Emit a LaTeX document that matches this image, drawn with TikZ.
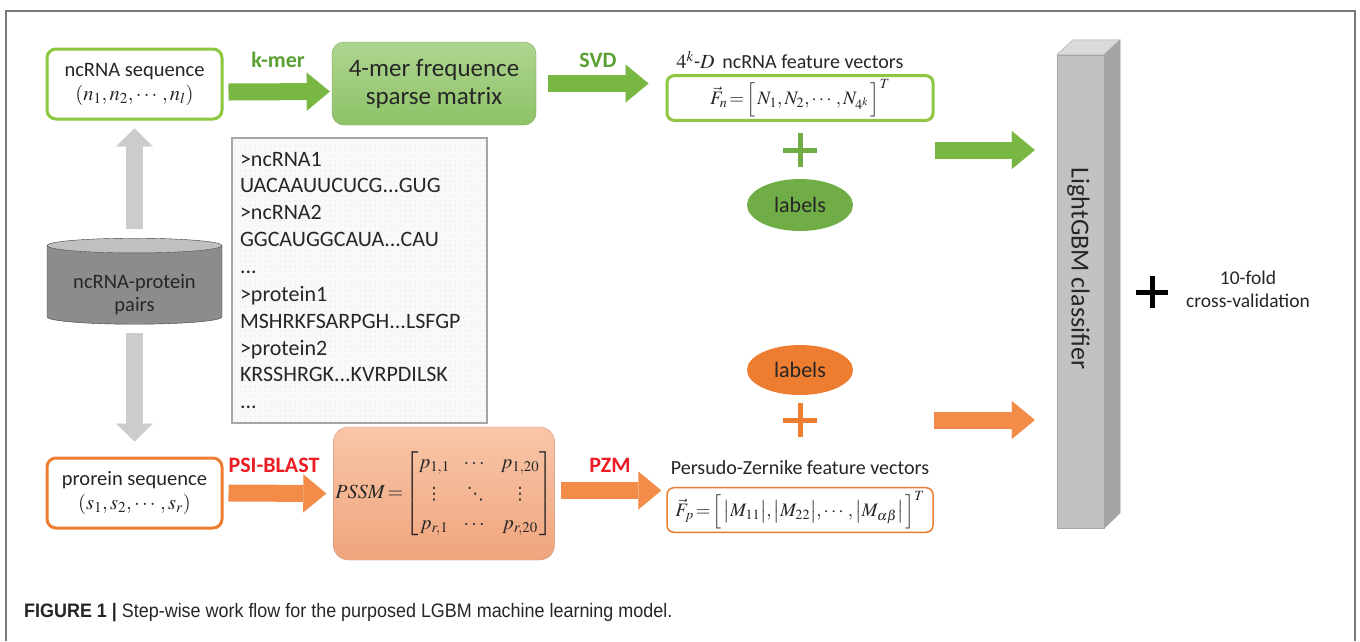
\documentclass[tikz,border=0pt]{standalone}
\usepackage{amsmath}
\usepackage{mathptmx}
\usepackage[no-math]{fontspec}
\setmainfont{Carlito}
\newfontfamily\capfont[FakeStretch=0.92]{Liberation Sans}
\newfontfamily\dotsfont{DejaVu Sans}
\usetikzlibrary{positioning,calc,arrows.meta,shapes.geometric,patterns.meta}

\definecolor{seqgreen}{RGB}{141,198,63}
\definecolor{arrgreen}{RGB}{120,184,66}
\definecolor{lblgreen}{RGB}{112,173,71}
\definecolor{txtgreen}{RGB}{88,160,50}
\definecolor{seqorange}{RGB}{237,125,49}
\definecolor{arrorange}{RGB}{242,140,72}
\definecolor{pssmtop}{RGB}{248,198,168}
\definecolor{pssmbot}{RGB}{240,165,125}
\definecolor{mertop}{RGB}{174,213,144}
\definecolor{merbot}{RGB}{142,194,104}
\definecolor{txtred}{RGB}{235,28,36}
\definecolor{framegray}{RGB}{120,120,120}
\definecolor{dbbody}{RGB}{140,140,140}
\definecolor{dbtop}{RGB}{192,192,192}
\definecolor{barfront}{RGB}{194,194,194}
\definecolor{barside}{RGB}{165,165,165}
\definecolor{bartop}{RGB}{218,218,218}
\definecolor{ink}{RGB}{38,38,38}

\tikzset{
  every node/.style={text=ink},
  seqbox/.style={draw=#1, line width=3pt, rounded corners=9pt, fill=white,
    minimum width=175pt, minimum height=70pt, align=center,
    font=\fontsize{20.5}{24}\selectfont},
  fatarrow/.style={draw=#1, line width=17pt,
    -{Triangle[length=23pt,width=38pt,line width=0.1pt]}},
  grayarrow/.style={draw=gray!40, line width=17pt,
    -{Triangle[length=18pt,width=37pt,line width=0.1pt]}},
  steplbl/.style={font=\fontsize{22}{26}\selectfont\bfseries, text=#1},
  featlbl/.style={font=\fontsize{20}{24}\selectfont},
  featbox/.style={draw=#1, rounded corners=7pt, minimum width=266pt, fill=white,
    font=\fontsize{19}{22}\selectfont},
  lblell/.style={ellipse, fill=#1, minimum width=106pt, minimum height=52pt,
    font=\fontsize{22}{26}\selectfont},
  plusarm/.style={draw=#1, line width=5pt},
}

\begin{document}
\begin{tikzpicture}[x=1pt,y=-1pt]
\useasboundingbox (0,0) rectangle (1360,641);
\fill[white] (0,0) rectangle (1360,641);
\draw[framegray, line width=1.5pt] (6,641) -- (6,11) -- (1355,11) -- (1355,641);

% ncRNA branch
\node[seqbox=seqgreen] (ncrna) at (134.5,84) {ncRNA sequence\\$\left(n_1,n_2,\cdots,n_l\right)$};
\node[rounded corners=12pt, draw=merbot!85!black, top color=mertop, bottom color=merbot,
  minimum width=204pt, minimum height=83pt, align=center,
  font=\fontsize{25}{28}\selectfont] (fourmer) at (434,83.5) {4-mer frequence\\sparse matrix};
\node[featlbl] (fnlbl) at (790,60) {$4^k$-$D$\, ncRNA feature vectors};
\node[featbox=seqgreen, line width=3pt, minimum height=42pt] (featn) at (800,98)
  {$\vec{F}_n\!=\!\Bigl[\,N_1,N_2,\cdots,N_{4^k}\,\Bigr]^T$};
\coordinate (gplus) at (800,150);
\draw[plusarm=lblgreen] ($(gplus)+(-17,0)$) -- ($(gplus)+(17,0)$) ($(gplus)+(0,-17)$) -- ($(gplus)+(0,17)$);
\node[lblell=lblgreen] (glabels) at (800,205) {labels};

\draw[fatarrow=arrgreen] ($(ncrna.east)+(5,8)$) -- ($(fourmer.west)+(-2,8)$);
\node[steplbl=txtgreen] (kmer) at (278,60) {k-mer};
\draw[fatarrow=arrgreen] ($(fourmer.east)+(12,0)$) -- ($(fourmer.east -| featn.west)+(-17,0)$);
\node[steplbl=txtgreen] (svd) at (598,60) {SVD};

% database and fasta list
\node[cylinder, shape border rotate=90, aspect=0.12, draw=black!75, cylinder uses custom fill,
  cylinder body fill=dbbody, cylinder end fill=dbtop, minimum width=175pt, minimum height=86pt,
  align=center, inner sep=0pt, font=\fontsize{20.5}{23}\selectfont] (db) at (134.5,285)
  {\rule{0pt}{34pt}ncRNA-protein\\pairs};
\draw[grayarrow] ($(db.north)+(0,-9)$) -- ($(ncrna.south)+(0,8)$);

\node[draw=gray!70, line width=1.2pt, preaction={fill=gray!5}, pattern={Dots[distance=5pt,radius=0.5pt]},
  pattern color=gray!40, minimum width=255pt, minimum height=285pt, text width=239pt, inner xsep=8pt,
  align=left, font=\fontsize{22}{27}\selectfont] (fasta) at (359.5,280.5)
  {>ncRNA1\\UACAAUUCUCG...GUG\\>ncRNA2\\GGCAUGGCAUA...CAU\\...\\>protein1\\MSHRKFSARPGH...LSFGP\\>protein2\\KRSSHRGK...KVRPDILSK\\...};

% protein branch
\node[seqbox=seqorange] (prot) at (134.5,493) {prorein sequence\\$\left(s_1,s_2,\cdots,s_r\right)$};
\draw[grayarrow] ($(db.south)+(0,9)$) -- ($(prot.north)+(0,-15)$);
\node[rounded corners=15pt, draw=pssmbot!90!black, top color=pssmtop, bottom color=pssmbot,
  minimum width=218pt, minimum height=133pt, inner sep=2pt, font=\fontsize{20}{24}\selectfont] (pssm) at (444,493.5)
  {\setlength{\arraycolsep}{7pt}\renewcommand{\arraystretch}{1.15}%
   $PSSM\!=\!\begin{bmatrix} p_{1,1} & \cdots & p_{1,20}\\[3pt]
     \mbox{\dotsfont\fontsize{17}{20}\selectfont ⋮} & \mbox{\dotsfont\fontsize{17}{20}\selectfont ⋱} & \mbox{\dotsfont\fontsize{17}{20}\selectfont ⋮}\\[3pt]
     p_{r,1} & \cdots & p_{r,20}\end{bmatrix}$};
\draw[fatarrow=arrorange] ($(prot.east)+(5,0)$) -- ($(pssm.west)+(-7,0)$);
\node[steplbl=txtred] (psiblast) at (274,465) {PSI-BLAST};

\node[lblell=seqorange, minimum height=50pt] (olabels) at (800,370) {labels};
\coordinate (oplus) at (800,420);
\draw[plusarm=seqorange] ($(oplus)+(-17,0)$) -- ($(oplus)+(17,0)$) ($(oplus)+(0,-17)$) -- ($(oplus)+(0,17)$);
\node[featlbl] (fplbl) at (800,468) {Persudo-Zernike feature vectors};
\node[featbox=seqorange, line width=1.5pt, minimum height=40pt] (featp) at (800,510)
  {$\vec{F}_p\!=\!\Bigl[\,\bigl|M_{11}\bigr|,\bigl|M_{22}\bigr|,\cdots,\bigl|M_{\alpha\beta}\bigr|\,\Bigr]^T$};
\draw[fatarrow=arrorange] ($(pssm.east)+(6,-3)$) -- ($(pssm.east -| featp.west)+(-5,-3)$);
\node[steplbl=txtred] (pzm) at (610,465) {PZM};

% classifier
\node[draw=gray!70, fill=barfront, minimum width=47pt, minimum height=473pt, inner sep=0pt] (bar) at (1080.5,291.5) {};
\filldraw[draw=gray!70, fill=bartop] (bar.north west) -- ++(16,-15) -- ++(47,0) -- (bar.north east) -- cycle;
\filldraw[draw=gray!70, fill=barside] (bar.north east) -- ++(16,-15) -- ++(0,473) -- (bar.south east) -- cycle;
\node[rotate=-90, font=\fontsize{26}{30}\selectfont] (barlbl) at ($(bar.center)+(-2,-23)$) {LightGBM classifier};
\draw[fatarrow=arrgreen] (gplus -| featn.east) -- ($(gplus -| bar.west)+(-22,0)$);
\draw[fatarrow=arrorange] (oplus -| featp.east) -- ($(oplus -| bar.west)+(-22,0)$);

\coordinate (kplus) at (1152,292);
\draw[plusarm=black] ($(kplus)+(-16,0)$) -- ($(kplus)+(16,0)$) ($(kplus)+(0,-16)$) -- ($(kplus)+(0,16)$);
\node[align=center, font=\fontsize{19.5}{23}\selectfont] (cv) at (1248,289) {10-fold\\cross-validation};

% caption
\node[anchor=base west, inner sep=0pt, font=\capfont\fontsize{19.5}{22}\selectfont] (caption) at (24,617)
  {\textbf{FIGURE 1 |} Step-wise work flow for the purposed LGBM machine learning model.};
\end{tikzpicture}
\end{document}
